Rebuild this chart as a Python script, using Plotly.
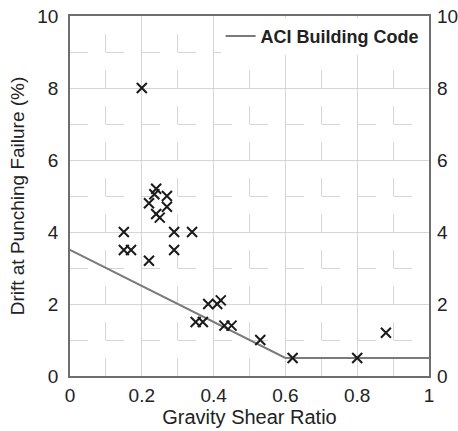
import plotly.graph_objects as go

# Test data: gravity shear ratio vs drift at punching failure
shear_ratio = [0.20, 0.24, 0.235, 0.27, 0.22, 0.27, 0.24, 0.25,
               0.15, 0.29, 0.34, 0.15, 0.17, 0.29, 0.22,
               0.385, 0.41, 0.42, 0.35, 0.37, 0.43, 0.45,
               0.53, 0.62, 0.80, 0.88]
drift = [8.0, 5.2, 5.05, 5.0, 4.8, 4.7, 4.5, 4.4,
         4.0, 4.0, 4.0, 3.5, 3.5, 3.5, 3.2,
         2.0, 2.0, 2.1, 1.5, 1.5, 1.4, 1.4,
         1.0, 0.5, 0.5, 1.2]

# ACI Building Code limit
aci_x = [0.0, 0.6, 1.0]
aci_y = [3.5, 0.5, 0.5]

x_ticks = [0, 0.2, 0.4, 0.6, 0.8, 1]
x_tick_labels = ["0", "0.2", "0.4", "0.6", "0.8", "1"]
y_ticks = [0, 2, 4, 6, 8, 10]
y_tick_labels = ["0", "2", "4", "6", "8", "10"]

FONT = "Liberation Sans, Arial, sans-serif"
AXIS_COLOR = "#6e6e6e"
GRID_COLOR = "#d6d6d6"

fig = go.Figure()
fig.add_trace(go.Scatter(
    x=aci_x, y=aci_y, mode="lines", name="ACI Building Code",
    line=dict(color="#7a7a7a", width=2), showlegend=True))
fig.add_trace(go.Scatter(
    x=shear_ratio, y=drift, mode="markers", name="Tests", showlegend=False,
    marker=dict(symbol="x-thin", size=10, line=dict(color="#1a1a1a", width=2))))
# invisible trace to drive the right-hand y axis
fig.add_trace(go.Scatter(x=[None], y=[None], yaxis="y2", showlegend=False,
                         hoverinfo="skip"))

fig.update_layout(
    width=458, height=431,
    margin=dict(l=70, r=29, t=16, b=55),
    paper_bgcolor="white", plot_bgcolor="white",
    font=dict(family=FONT, size=19, color="#222"),
    showlegend=True,
    legend=dict(x=0.985, y=0.995, xanchor="right", yanchor="top",
                bgcolor="white", borderwidth=0,
                font=dict(family=FONT, size=18, color="#222", weight="bold"),
                itemwidth=30),
    xaxis=dict(
        range=[0, 1], tickvals=x_ticks, ticktext=x_tick_labels,
        showline=True, linecolor=AXIS_COLOR, linewidth=1.5, mirror=True,
        showgrid=True, gridcolor=GRID_COLOR, gridwidth=1.2,
        zeroline=False, ticks="", ticklabelstandoff=1, automargin=False,
        minor=dict(dtick=0.1, showgrid=True, gridcolor=GRID_COLOR,
                   gridwidth=1.2, griddash="0px,18px,18px,0px"),
        title=dict(text="Gravity Shear Ratio", font=dict(size=20), standoff=0),
    ),
    yaxis=dict(
        range=[0, 10], tickvals=y_ticks, ticktext=y_tick_labels,
        showline=True, linecolor=AXIS_COLOR, linewidth=1.5, mirror=True,
        showgrid=True, gridcolor=GRID_COLOR, gridwidth=1.2,
        zeroline=False, ticks="", ticklabelstandoff=6, automargin=False,
        minor=dict(dtick=1, showgrid=True, gridcolor=GRID_COLOR,
                   gridwidth=1.2, griddash="18px,18px"),
        title=dict(text="Drift at Punching Failure (%)", font=dict(size=19),
                   standoff=8),
    ),
    yaxis2=dict(
        range=[0, 10], tickvals=y_ticks, ticktext=y_tick_labels,
        overlaying="y", side="right", showgrid=False, zeroline=False,
        showline=False, ticks="", ticklabelstandoff=7, automargin=False,
    ),
)

fig.write_html("out.html")
